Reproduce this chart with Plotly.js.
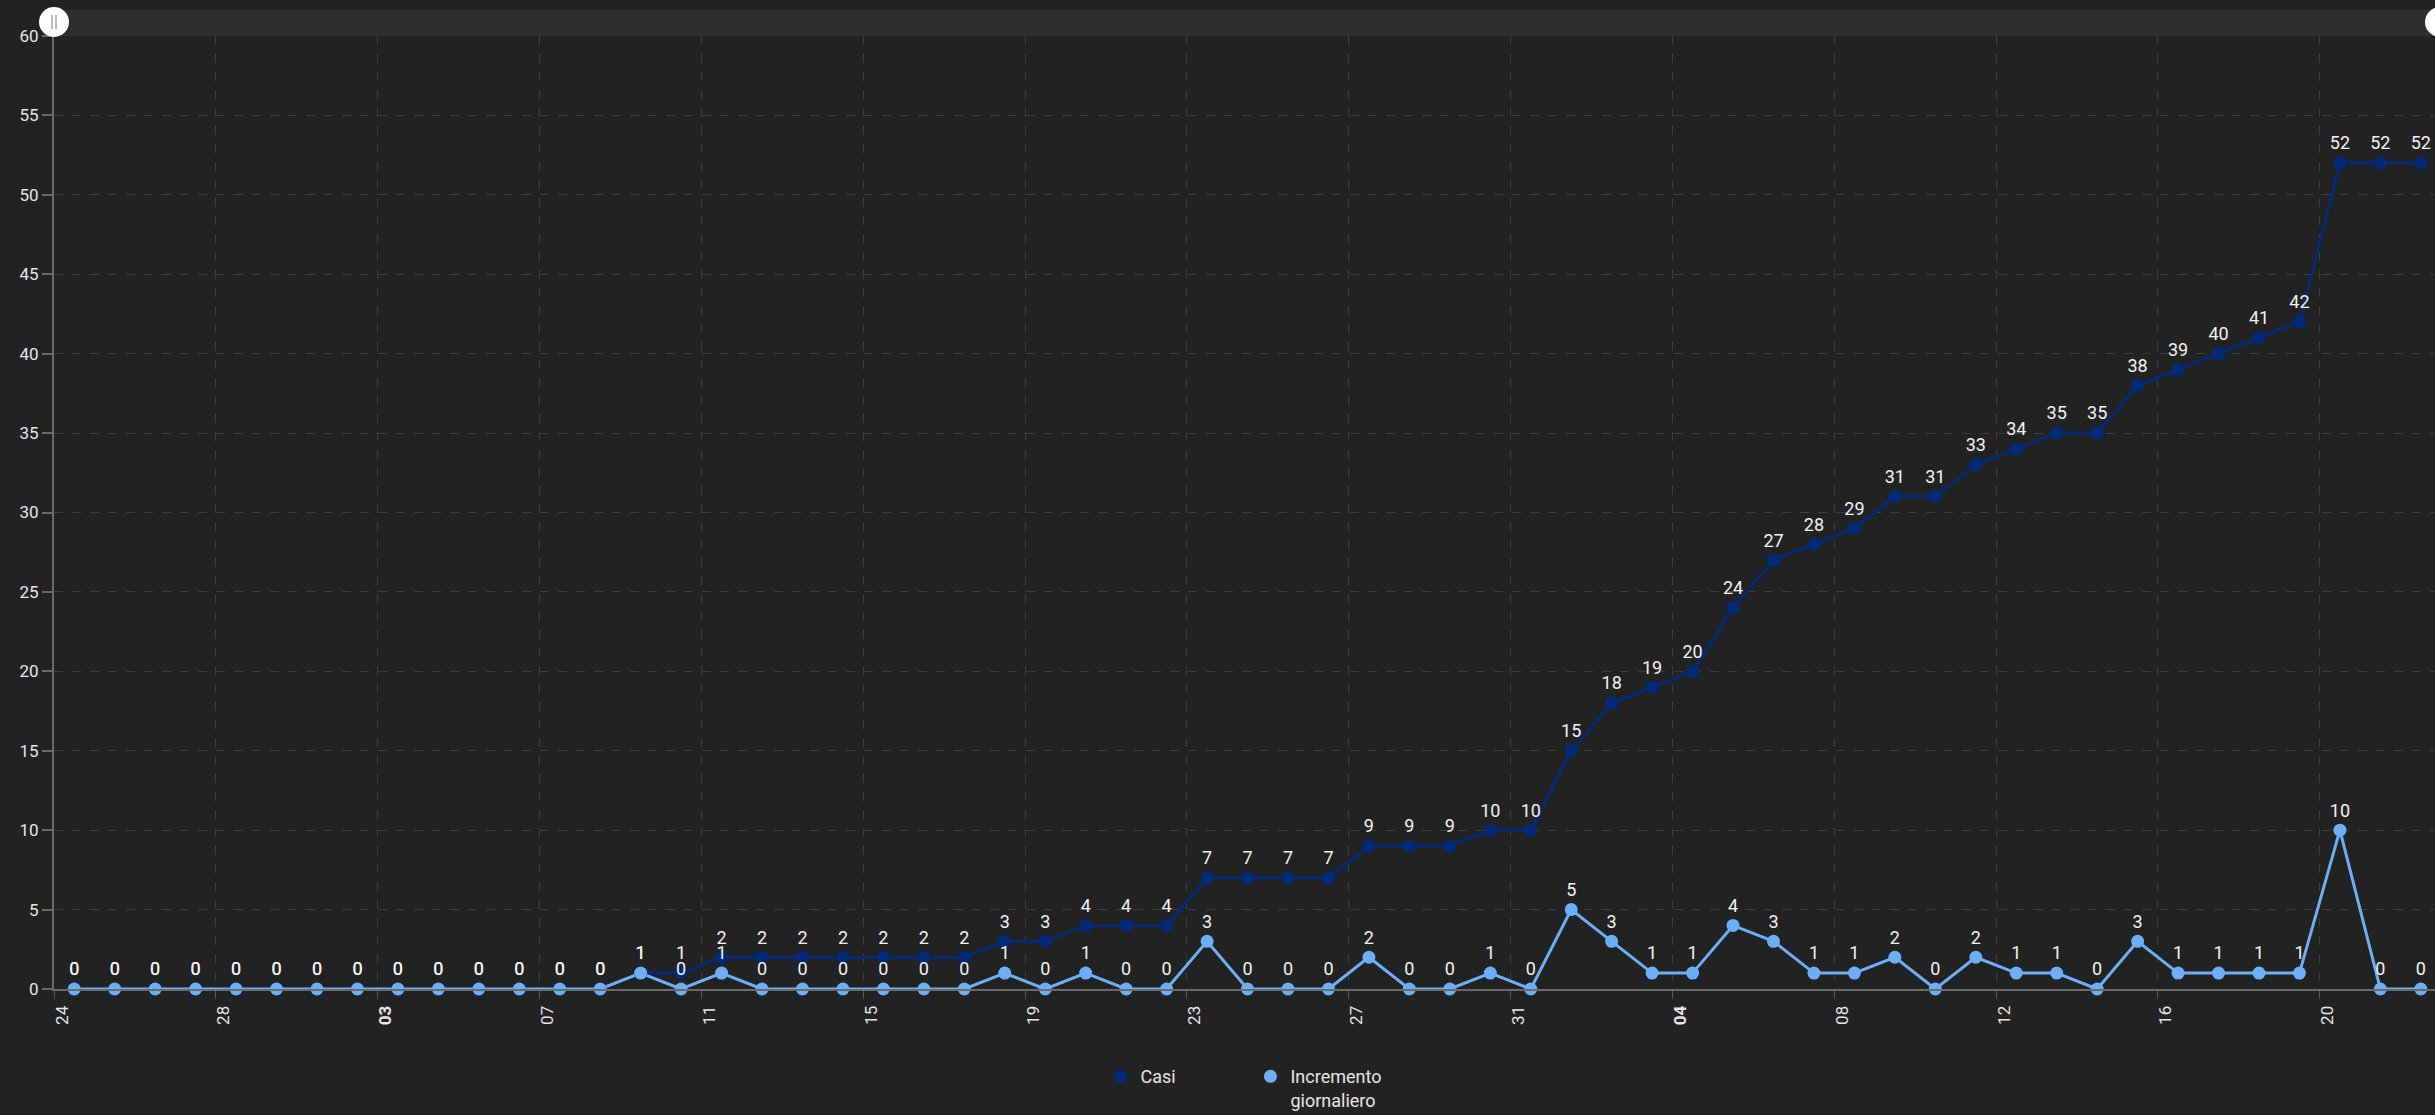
<!DOCTYPE html>
<html>
<head>
<meta charset="utf-8">
<script src="https://cdn.plot.ly/plotly-3.0.1.min.js"></script>
<style>
  html, body { margin: 0; padding: 0; background: #222222; }
  #chart { width: 2435px; height: 1115px; }
</style>
</head>
<body>
<div id="chart"></div>
<script>
const dates = [
  '2020-02-24','2020-02-25','2020-02-26','2020-02-27','2020-02-28','2020-02-29',
  '2020-03-01','2020-03-02','2020-03-03','2020-03-04','2020-03-05','2020-03-06','2020-03-07',
  '2020-03-08','2020-03-09','2020-03-10','2020-03-11','2020-03-12','2020-03-13','2020-03-14',
  '2020-03-15','2020-03-16','2020-03-17','2020-03-18','2020-03-19','2020-03-20','2020-03-21',
  '2020-03-22','2020-03-23','2020-03-24','2020-03-25','2020-03-26','2020-03-27','2020-03-28',
  '2020-03-29','2020-03-30','2020-03-31','2020-04-01','2020-04-02','2020-04-03','2020-04-04',
  '2020-04-05','2020-04-06','2020-04-07','2020-04-08','2020-04-09','2020-04-10','2020-04-11',
  '2020-04-12','2020-04-13','2020-04-14','2020-04-15','2020-04-16','2020-04-17','2020-04-18',
  '2020-04-19','2020-04-20','2020-04-21','2020-04-22'
];

const casi = [
  0,0,0,0,0,0,0,0,0,0,0,0,0,0,
  1,1,2,2,2,2,2,2,2,3,3,4,4,4,
  7,7,7,7,9,9,9,10,10,15,18,19,20,24,
  27,28,29,31,31,33,34,35,35,38,39,40,41,42,
  52,52,52
];

const incremento = [
  0,0,0,0,0,0,0,0,0,0,0,0,0,0,
  1,0,1,0,0,0,0,0,0,1,0,1,0,0,
  3,0,0,0,2,0,0,1,0,5,3,1,1,4,
  3,1,1,2,0,2,1,1,0,3,1,1,1,1,
  10,0,0
];

const tickDates = ['2020-02-24','2020-02-28','2020-03-03','2020-03-07','2020-03-11','2020-03-15',
  '2020-03-19','2020-03-23','2020-03-27','2020-03-31','2020-04-04','2020-04-08','2020-04-12',
  '2020-04-16','2020-04-20'];
const tickLabels = ['24','28','<b>03</b>','07','11','15','19','23','27','31','<b>04</b>','08','12','16','20'];

const yTicks = [0,5,10,15,20,25,30,35,40,45,50,55,60];

const seriesNames = ['Casi', 'Incremento<br>giornaliero'];
const colCasi = '#022a78';
const colInc = '#6eaef5';
const FONT = 'Roboto, "Noto Sans", sans-serif';
const DAY = 86400000;

function lineTrace(y, color) {
  return {
    x: dates, y: y, type: 'scatter', mode: 'lines',
    xperiod: DAY, xperiodalignment: 'middle',
    line: { color: color, width: 3 },
    showlegend: false, hoverinfo: 'skip', cliponaxis: false
  };
}
function markerTrace(y, color, name) {
  return {
    x: dates, y: y, type: 'scatter', mode: 'markers+text', name: name,
    xperiod: DAY, xperiodalignment: 'middle',
    marker: { color: color, size: 13 },
    text: y.map(String), textposition: 'top center',
    textfont: { family: FONT, size: 18, color: '#f2f2f2' },
    cliponaxis: false
  };
}

const data = [
  lineTrace(casi, colCasi),
  lineTrace(incremento, colInc),
  markerTrace(casi, colCasi, seriesNames[0]),
  markerTrace(incremento, colInc, seriesNames[1])
];

const layout = {
  width: 2435, height: 1115,
  paper_bgcolor: '#222222', plot_bgcolor: '#222222',
  margin: { l: 54, r: 0, t: 36, b: 126, autoexpand: false },
  font: { family: FONT, color: '#e6e6e6', size: 17 },
  xaxis: {
    type: 'date',
    range: ['2020-02-24 00:00', '2020-04-22 20:24'],
    tickvals: tickDates, ticktext: tickLabels,
    tickangle: -90, ticklabelshift: 8,
    tickfont: { family: FONT, size: 17, color: '#e6e6e6' },
    showgrid: true, gridcolor: '#3c3c3c', griddash: 'dash', gridwidth: 1,
    showline: true, linecolor: '#6a6a6a', linewidth: 2,
    ticks: 'outside', ticklen: 8, tickcolor: '#555555', tickwidth: 1,
    zeroline: false, fixedrange: true
  },
  yaxis: {
    range: [0, 60], tickvals: yTicks,
    tickfont: { family: FONT, size: 17, color: '#e6e6e6' },
    showgrid: true, gridcolor: '#3c3c3c', griddash: 'dash', gridwidth: 1,
    showline: true, linecolor: '#6a6a6a', linewidth: 2,
    ticks: 'outside', ticklen: 10, tickcolor: '#6a6a6a', tickwidth: 2,
    zeroline: false, fixedrange: true
  },
  legend: {
    orientation: 'h', x: 0.5025, xanchor: 'center',
    yref: 'container', y: 0.051, yanchor: 'top',
    font: { family: FONT, size: 18, color: '#e6e6e6' },
    valign: 'top', entrywidth: 105, bgcolor: 'rgba(0,0,0,0)'
  },
  shapes: [
    { type: 'rect', xref: 'paper', x0: 0, x1: 1.01, yref: 'paper', ysizemode: 'pixel', yanchor: 1,
      y0: 0, y1: 26, fillcolor: '#2e2e2e', line: { width: 0 }, layer: 'above' },
    { type: 'circle', xref: 'paper', xsizemode: 'pixel', xanchor: 0, x0: -15, x1: 15,
      yref: 'paper', ysizemode: 'pixel', yanchor: 1, y0: -1, y1: 29,
      fillcolor: '#ffffff', line: { width: 0 }, layer: 'above' },
    { type: 'line', xref: 'paper', xsizemode: 'pixel', xanchor: 0, x0: -2, x1: -2,
      yref: 'paper', ysizemode: 'pixel', yanchor: 1, y0: 7, y1: 21,
      line: { color: '#bbbbbb', width: 2 }, layer: 'above' },
    { type: 'line', xref: 'paper', xsizemode: 'pixel', xanchor: 0, x0: 2, x1: 2,
      yref: 'paper', ysizemode: 'pixel', yanchor: 1, y0: 7, y1: 21,
      line: { color: '#bbbbbb', width: 2 }, layer: 'above' },
    { type: 'circle', xref: 'paper', xsizemode: 'pixel', xanchor: 1, x0: -10, x1: 20,
      yref: 'paper', ysizemode: 'pixel', yanchor: 1, y0: -1, y1: 29,
      fillcolor: '#ffffff', line: { width: 0 }, layer: 'above' }
  ],
  hovermode: false
};

Plotly.newPlot('chart', data, layout, { displayModeBar: false, staticPlot: true });
</script>
</body>
</html>
